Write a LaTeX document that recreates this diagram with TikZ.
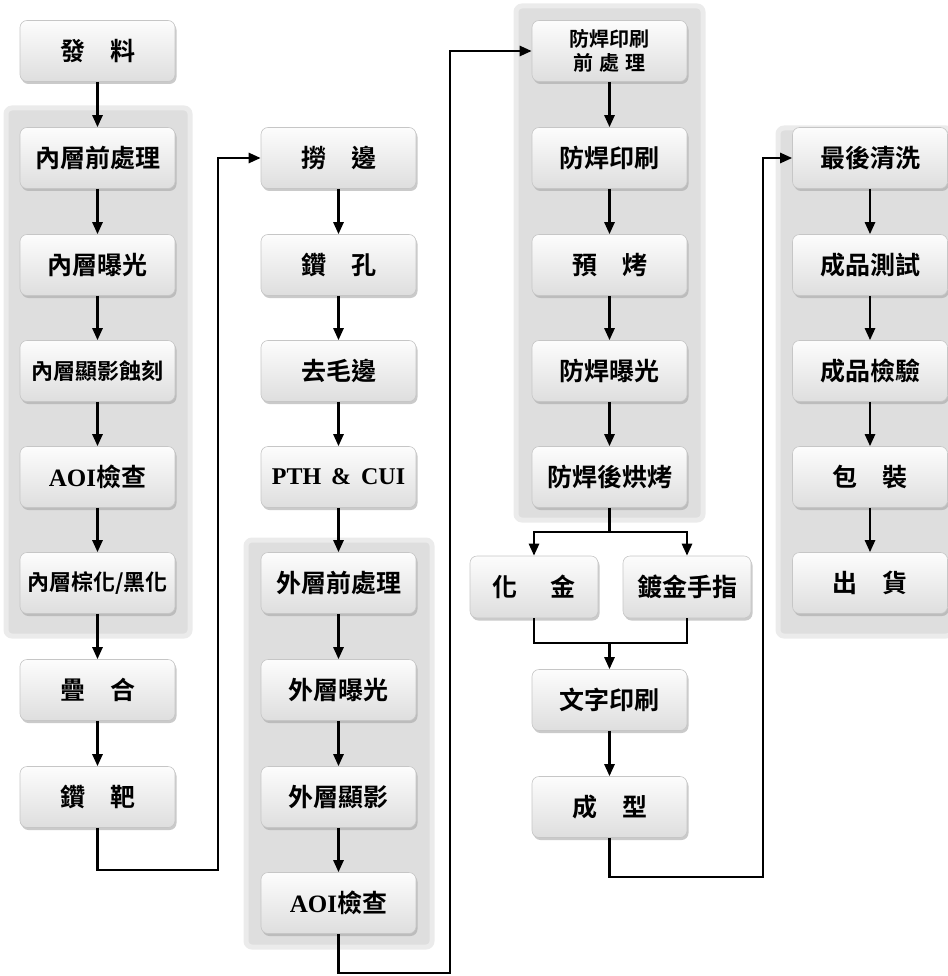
\documentclass[tikz,border=0pt]{standalone}
\usepackage{fontspec}
\setmainfont{Liberation Serif}
\newfontfamily\cjk{Noto Sans CJK TC}[BoldFont={Noto Sans CJK TC Bold}]
\newcommand\zhtxt[1]{{\cjk #1}}
\usetikzlibrary{arrows.meta,shadows}

\begin{document}
\begin{tikzpicture}[x=1pt,y=-1pt,
  stepbox/.style={draw=gray!45, line width=0.6pt, rounded corners=7pt, align=center,
    top color=gray!2, bottom color=gray!26, minimum width=155pt, minimum height=61pt,
    drop shadow={shadow xshift=1.5pt, shadow yshift=-2.5pt, fill=gray!70, opacity=0.6},
    font=\bfseries\fontsize{25pt}{28pt}\selectfont, inner sep=2pt},
  smallbox/.style={stepbox, minimum width=128pt, minimum height=62pt},
  longtxt/.style={font=\bfseries\fontsize{22pt}{24pt}\selectfont},
  group/.style={fill=gray!26, draw=gray!16, line width=5pt, rounded corners=6pt},
  arr/.style={-{Triangle[length=12pt,width=10pt]}, line width=2.5pt},
  line/.style={line width=2.5pt}]
\useasboundingbox (0,0) rectangle (947,976);

% shaded groups
\draw[group] (6,108) rectangle (190,636);
\draw[group] (246,540) rectangle (432,947);
\draw[group] (516,6) rectangle (703,520);
\draw[group] (778,128) rectangle (952,636);

% first column
\node[stepbox] (a1) at (97.5,51) {\zhtxt{發\hspace{1em}料}};
\node[stepbox] (a2) at (97.5,158) {\zhtxt{內層前處理}};
\node[stepbox] (a3) at (97.5,265) {\zhtxt{內層曝光}};
\node[stepbox, longtxt] (a4) at (97.5,371) {\zhtxt{內層顯影蝕刻}};
\node[stepbox] (a5) at (97.5,477) {AOI\zhtxt{檢查}};
\node[stepbox, longtxt] (a6) at (97.5,583) {\zhtxt{內層棕化/黑化}};
\node[stepbox] (a7) at (97.5,690) {\zhtxt{疊\hspace{1em}合}};
\node[stepbox] (a8) at (97.5,797) {\zhtxt{鑽\hspace{1em}靶}};

% second column
\node[stepbox] (b1) at (338.5,158) {\zhtxt{撈\hspace{1em}邊}};
\node[stepbox] (b2) at (338.5,265) {\zhtxt{鑽\hspace{1em}孔}};
\node[stepbox] (b3) at (338.5,371) {\zhtxt{去毛邊}};
\node[stepbox, font=\bfseries\fontsize{24pt}{26pt}\selectfont] (b4) at (338.5,477) {PTH \,\&\, CUI};
\node[stepbox] (b5) at (338.5,583) {\zhtxt{外層前處理}};
\node[stepbox] (b6) at (338.5,690) {\zhtxt{外層曝光}};
\node[stepbox] (b7) at (338.5,797) {\zhtxt{外層顯影}};
\node[stepbox] (b8) at (338.5,903) {AOI\zhtxt{檢查}};

% third column
\node[stepbox, font=\bfseries\fontsize{20pt}{24pt}\selectfont] (c1) at (609.5,51) {\zhtxt{防焊印刷}\\\zhtxt{前\hspace{0.3em}處\hspace{0.3em}理}};
\node[stepbox] (c2) at (609.5,158) {\zhtxt{防焊印刷}};
\node[stepbox] (c3) at (609.5,265) {\zhtxt{預\hspace{1em}烤}};
\node[stepbox] (c4) at (609.5,371) {\zhtxt{防焊曝光}};
\node[stepbox] (c5) at (609.5,477) {\zhtxt{防焊後烘烤}};
\node[smallbox] (e1) at (534,587) {\zhtxt{化\hspace{1.3em}金}};
\node[smallbox] (e2) at (687,587) {\zhtxt{鍍金手指}};
\node[stepbox] (g1) at (609.5,700) {\zhtxt{文字印刷}};
\node[stepbox] (g2) at (609.5,807) {\zhtxt{成\hspace{1em}型}};

% fourth column
\node[stepbox] (d1) at (870,158) {\zhtxt{最後清洗}};
\node[stepbox] (d2) at (870,265) {\zhtxt{成品測試}};
\node[stepbox] (d3) at (870,371) {\zhtxt{成品檢驗}};
\node[stepbox] (d4) at (870,477) {\zhtxt{包\hspace{1em}裝}};
\node[stepbox] (d5) at (870,583) {\zhtxt{出\hspace{1em}貨}};

% straight arrows
\foreach \p/\q in {a1/a2,a2/a3,a3/a4,a4/a5,a5/a6,a6/a7,a7/a8,
  b1/b2,b2/b3,b3/b4,b4/b5,b5/b6,b6/b7,b7/b8,
  c1/c2,c2/c3,c3/c4,c4/c5,g1/g2,
  d1/d2,d2/d3,d3/d4,d4/d5}
  \draw[arr] (\p.south) -- (\q.north);

% links between columns
\coordinate (k1) at (218,870);
\coordinate (k2) at (450,973);
\coordinate (k3) at (763,877);
\draw[arr] (a8.south) |- (k1) |- (b1.west);
\draw[arr] (b8.south) |- (k2) |- (c1.west);
\draw[arr] (g2.south) |- (k3) |- (d1.west);

% split and join
\coordinate (sp) at (609.5,532);
\coordinate (jn) at (609.5,643);
\draw[line] (c5.south) -- (sp);
\draw[arr] (sp) -| (e1.north);
\draw[arr] (sp) -| (e2.north);
\draw[line] (e1.south) |- (jn) -| (e2.south);
\draw[arr] (jn) -- (g1.north);
\end{tikzpicture}
\end{document}
